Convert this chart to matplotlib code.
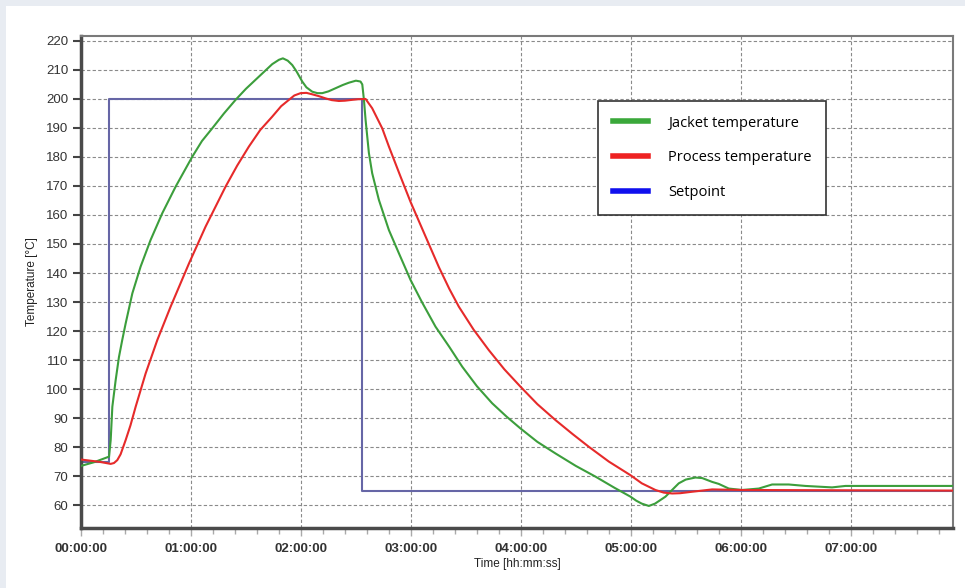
import matplotlib.pyplot as plt
import matplotlib.patches as patches
from matplotlib.ticker import MultipleLocator, FuncFormatter

# time in hours, temperatures in degC
jacket_t = [0.0, 0.12, 0.255, 0.27, 0.285, 0.315, 0.345, 0.375, 0.406, 0.467, 0.542,
            0.633, 0.739, 0.861, 1.012, 1.1, 1.194, 1.3, 1.406, 1.5, 1.618, 1.739,
            1.8, 1.836, 1.88, 1.921, 1.96, 2.012, 2.05, 2.103, 2.15, 2.194, 2.25,
            2.315, 2.38, 2.436, 2.5, 2.542, 2.558, 2.573, 2.588, 2.618, 2.648, 2.709,
            2.8, 2.891, 2.997, 3.1, 3.224, 3.35, 3.467, 3.6, 3.739, 3.87, 3.997,
            4.15, 4.315, 4.5, 4.679, 4.85, 4.997, 5.05, 5.1, 5.164, 5.22, 5.315,
            5.37, 5.436, 5.5, 5.588, 5.65, 5.739, 5.8, 5.891, 6.012, 6.164, 6.285,
            6.436, 6.588, 6.83, 6.952, 7.93]
jacket_v = [73.5, 74.8, 76.7, 82.4, 93.9, 103.0, 111.0, 116.9, 122.6, 133.0, 142.2,
            151.4, 160.6, 169.8, 180.1, 185.5, 189.9, 195.0, 199.7, 203.5, 207.7, 212.0,
            213.5, 214.0, 213.2, 211.7, 209.5, 206.0, 204.0, 202.5, 202.0, 202.0, 202.6,
            203.7, 204.8, 205.6, 206.3, 206.0, 205.0, 199.7, 192.8, 181.4, 174.4, 165.2,
            154.8, 146.8, 137.6, 130.0, 121.5, 114.5, 107.7, 101.0, 95.1, 90.5, 86.4,
            81.8, 77.8, 73.5, 69.8, 66.0, 62.9, 61.5, 60.5, 59.7, 60.5, 62.9,
            65.0, 67.5, 68.8, 69.5, 69.3, 68.0, 67.3, 65.7, 65.2, 65.7, 67.1,
            67.1, 66.6, 66.1, 66.6, 66.6]

process_t = [0.0, 0.17, 0.27, 0.3, 0.33, 0.36, 0.406, 0.45, 0.497, 0.588, 0.694,
             0.815, 0.982, 1.133, 1.315, 1.42, 1.527, 1.63, 1.739, 1.82, 1.891, 1.94,
             1.997, 2.05, 2.103, 2.16, 2.224, 2.28, 2.345, 2.4, 2.467, 2.52, 2.588,
             2.648, 2.739, 2.8, 2.9, 2.997, 3.1, 3.255, 3.35, 3.436, 3.57, 3.709, 3.85,
             3.997, 4.15, 4.315, 4.47, 4.618, 4.8, 4.997, 5.1, 5.224, 5.3, 5.376,
             5.45, 5.558, 5.65, 5.739, 6.01, 7.93]
process_v = [75.7, 74.9, 74.2, 74.5, 75.5, 77.5, 82.4, 87.5, 93.9, 105.4, 116.9,
             128.4, 143.3, 156.0, 169.8, 177.0, 183.6, 189.3, 193.9, 197.5, 199.7, 201.2,
             202.0, 202.1, 201.6, 201.0, 200.2, 199.6, 199.3, 199.4, 199.7, 199.9, 200.0,
             196.8, 189.9, 183.6, 173.8, 164.5, 155.5, 142.0, 134.5, 128.4, 120.5, 113.4, 106.8,
             100.8, 94.8, 89.3, 84.5, 80.1, 75.0, 70.3, 67.5, 65.2, 64.3, 64.0,
             64.1, 64.6, 65.0, 65.4, 65.2, 65.0]

setpoint_t = [0.0, 0.255, 0.255, 2.557, 2.557, 7.93]
setpoint_v = [75, 75, 200, 200, 65, 65]

fig = plt.figure(figsize=(9.65, 5.88), dpi=100)
fig.patch.set_facecolor('#e8ecf2')
fig.patches.append(patches.Rectangle((6 / 965, 0), 1, (588 - 6) / 588,
                                     transform=fig.transFigure, facecolor='white',
                                     edgecolor='none', zorder=-10))

ax = fig.add_axes([81 / 965, (588 - 528) / 588, (953 - 81) / 965, (528 - 36) / 588])
ax.set_facecolor('white')

ax.plot(jacket_t, jacket_v, color='#3c9e3c', lw=1.5, zorder=3)
ax.plot(process_t, process_v, color='#e62a2a', lw=1.5, zorder=4)
ax.plot(setpoint_t, setpoint_v, color='#6666a6', lw=1.5, zorder=2)

ax.set_xlim(0, 7.93)
ax.set_ylim(52.1, 221.7)
ax.xaxis.set_major_locator(MultipleLocator(1))
ax.xaxis.set_minor_locator(MultipleLocator(0.2))
ax.set_yticks(range(60, 221, 10))
ax.xaxis.set_major_formatter(FuncFormatter(lambda x, p: '%02d:00:00' % round(x)))

ax.grid(True, which='major', color='#8a8a8a', ls=(0, (3, 2)), lw=0.8)
ax.set_axisbelow(True)

for s in ['left', 'bottom']:
    ax.spines[s].set_color('#4a4a4a')
    ax.spines[s].set_linewidth(2.5)
for s in ['top', 'right']:
    ax.spines[s].set_color('#7a7a7a')
    ax.spines[s].set_linewidth(1.5)

ax.tick_params(axis='y', length=6, width=1.5, color='#444444', labelsize=9.5,
               labelcolor='#333333', pad=3)
ax.tick_params(axis='x', which='major', length=6, width=1, color='#aaaaaa',
               labelsize=9.5, labelcolor='#333333', pad=5)
ax.tick_params(axis='x', which='minor', length=4, width=1, color='#aaaaaa')
for lab in ax.get_xticklabels():
    lab.set_fontweight('bold')
    lab.set_family('Liberation Sans')
for lab in ax.get_yticklabels():
    lab.set_family('Liberation Sans')

ax.set_ylabel('Temperature [°C]', fontsize=8.5, family='Liberation Sans', color='#222222',
              labelpad=6)
ax.set_xlabel('Time [hh:mm:ss]', fontsize=8.5, family='Liberation Sans', color='#222222',
              labelpad=2)

handles = [plt.Line2D([], [], color='#3aa83a', lw=4),
           plt.Line2D([], [], color='#ee2222', lw=4),
           plt.Line2D([], [], color='#1010ee', lw=4)]
leg = ax.legend(handles, ['Jacket temperature', 'Process temperature', 'Setpoint'],
                loc='upper left', bbox_to_anchor=((598 - 81) / 872, (528 - 101) / 492),
                frameon=True, fancybox=False, edgecolor='#333333', framealpha=1,
                prop={'family': 'Open Sans', 'size': 10.5}, handlelength=2.4,
                handletextpad=1.4, labelspacing=1.36, borderpad=1.0, borderaxespad=0)
leg.get_frame().set_linewidth(1.2)
leg.set_zorder(5)

fig.savefig('out.png', dpi=100, facecolor=fig.get_facecolor())
